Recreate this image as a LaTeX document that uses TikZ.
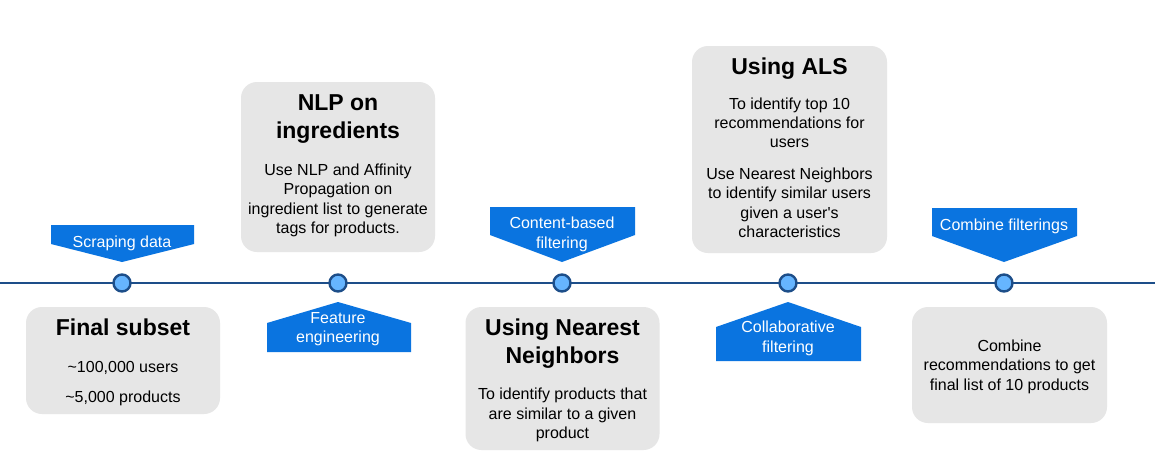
\documentclass[tikz,border=0pt]{standalone}
\usepackage{fontspec}
\setmainfont{Liberation Sans}
\definecolor{boxgray}{HTML}{E6E6E6}
\definecolor{bannerblue}{HTML}{0A74E0}
\definecolor{dotblue}{HTML}{66B5FF}
\definecolor{linenavy}{HTML}{1D4E89}
\tikzset{
  graybox/.style={fill=boxgray, draw=none, rounded corners=16pt, inner sep=0pt},
  titletext/.style={font=\fontsize{23}{27.6}\selectfont\bfseries, align=center, anchor=base, inner sep=0pt, text=black},
  bodytext/.style={font=\fontsize{16}{19.3}\selectfont, align=center, anchor=base, inner sep=0pt, text=black},
  bannertext/.style={font=\fontsize{16}{19.5}\selectfont, align=center, anchor=base, inner sep=0pt, text=white},
  banner/.style={fill=bannerblue, draw=none},
  dot/.style={circle, fill=dotblue, draw=linenavy, line width=2.4pt, minimum size=17pt, inner sep=0pt},
  timeline/.style={draw=linenavy, line width=2pt}
}
\begin{document}
\begin{tikzpicture}[x=1pt,y=-1pt]
\useasboundingbox[fill=white] (0,0) rectangle (1155,469);
% timeline
\coordinate (tl0) at (0,283);
\coordinate (tl1) at (1155,283);
\draw[timeline] (tl0) -- (tl1);
\node[dot] (d1) at (122,283) {};
\node[dot] (d2) at (338,283) {};
\node[dot] (d3) at (562,283) {};
\node[dot] (d4) at (788,283) {};
\node[dot] (d5) at (1004,283) {};
% banners (anchor=base = baseline of the last line)
\fill[banner] (51,225) -- (194,225) -- (194,244) -- (122,262) -- (51,244) -- cycle;
\node[bannertext] (bt1) at (122,247.3) {Scraping data};
\fill[banner] (267,352) -- (411,352) -- (411,323) -- (338,302) -- (267,323) -- cycle;
\node[bannertext] (bt2) at (338,342.7) {Feature\\engineering};
\fill[banner] (490,207) -- (635,207) -- (635,235) -- (562,262) -- (490,235) -- cycle;
\node[bannertext] (bt3) at (562,248.3) {Content-based\\filtering};
\fill[banner] (716,361) -- (861,361) -- (861,327) -- (788,302) -- (716,327) -- cycle;
\node[bannertext] (bt4) at (788,352) {Collaborative\\filtering};
\fill[banner] (932,208) -- (1077,208) -- (1077,236) -- (1004,262) -- (932,236) -- cycle;
\node[bannertext] (bt5) at (1004,230) {Combine filterings};
% gray boxes
\node[graybox, minimum width=194pt, minimum height=107pt] (b1) at (123,360.5) {};
\node[titletext] (t1) at (123,335) {Final subset};
\node[bodytext] (s1) at (123,402) {\textasciitilde100,000 users\\[10pt]\textasciitilde5,000 products};
\node[graybox, minimum width=194pt, minimum height=170pt] (b2) at (338,167) {};
\node[titletext] (t2) at (338,138.3) {NLP on\\ingredients};
\node[bodytext] (s2) at (338,233.3) {Use NLP and Affinity\\Propagation on\\ingredient list to generate\\tags for products.};
\node[graybox, minimum width=194pt, minimum height=143pt] (b3) at (562.5,378.5) {};
\node[titletext] (t3) at (562.5,363.3) {Using Nearest\\Neighbors};
\node[bodytext] (s3) at (562.5,438.3) {To identify products that\\are similar to a given\\product};
\node[graybox, minimum width=195pt, minimum height=207pt] (b4) at (789.5,149.5) {};
\node[titletext] (t4) at (789.5,74) {Using ALS};
\node[bodytext] (s4) at (789.5,237.3) {To identify top 10\\recommendations for\\users\\[12.4pt]Use Nearest Neighbors\\to identify similar users\\given a user\textquotesingle s\\characteristics};
\node[graybox, minimum width=195pt, minimum height=116pt] (b5) at (1009.5,365) {};
\node[bodytext] (s5) at (1009.5,390) {Combine\\recommendations to get\\final list of 10 products};
\end{tikzpicture}
\end{document}
